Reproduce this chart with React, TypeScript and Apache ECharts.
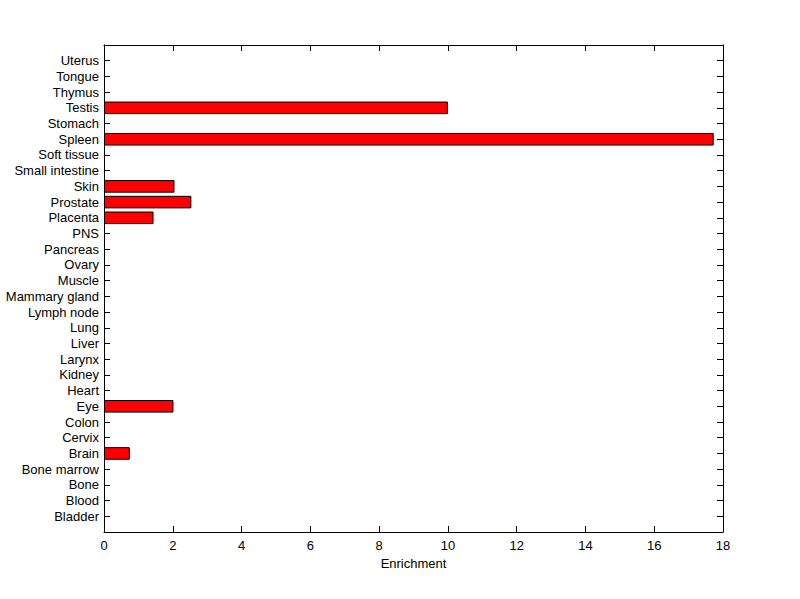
import React, { useEffect, useRef } from "react";
import * as echarts from "echarts";

const categories = [
  "Bladder", "Blood", "Bone", "Bone marrow", "Brain", "Cervix", "Colon", "Eye",
  "Heart", "Kidney", "Larynx", "Liver", "Lung", "Lymph node", "Mammary gland",
  "Muscle", "Ovary", "Pancreas", "PNS", "Placenta", "Prostate", "Skin",
  "Small intestine", "Soft tissue", "Spleen", "Stomach", "Testis", "Thymus",
  "Tongue", "Uterus",
];
const enrichment = [
  0, 0, 0, 0, 0.75, 0, 0, 2.02, 0, 0, 0, 0, 0, 0, 0, 0, 0, 0, 0, 1.44, 2.54,
  2.05, 0, 0, 17.73, 0, 10.0, 0, 0, 0,
];
const xMin = 0;
const xMax = 18;
const xStep = 2;
const xName = "Enrichment";

export default function App() {
  const ref = useRef<HTMLDivElement>(null);
  useEffect(() => {
    if (!ref.current) return;
    const chart = echarts.init(ref.current, undefined, { renderer: "svg" });
    const padded = ["", ...categories, ""];
    const data = [null, ...enrichment.map((v) => (v === 0 ? null : v)), null];
    const font = "'Liberation Sans', Arial, sans-serif";
    const axLine = { show: true, onZero: false, lineStyle: { color: "#000", width: 1 } };
    const tick = { show: true, inside: true, length: 6, lineStyle: { color: "#000", width: 1 } };
    chart.setOption({
      animation: false,
      backgroundColor: "#fff",
      grid: { left: 104, right: 77, top: 45, bottom: 67, containLabel: false },
      xAxis: [
        {
          type: "value",
          position: "bottom",
          min: xMin,
          max: xMax,
          interval: xStep,
          name: xName,
          nameLocation: "middle",
          nameGap: 24,
          nameTextStyle: { color: "#000", fontSize: 13, fontFamily: font },
          axisLine: axLine,
          axisTick: tick,
          splitLine: { show: false },
          axisLabel: { color: "#000", fontSize: 13, fontFamily: font, margin: 7 },
        },
        {
          type: "value",
          position: "top",
          min: xMin,
          max: xMax,
          interval: xStep,
          axisLine: axLine,
          axisTick: tick,
          splitLine: { show: false },
          axisLabel: { show: false },
        },
      ],
      yAxis: [
        {
          type: "category",
          position: "left",
          data: padded,
          boundaryGap: false,
          axisLine: axLine,
          axisTick: { ...tick, interval: 0 },
          splitLine: { show: false },
          axisLabel: { color: "#000", fontSize: 13, fontFamily: font, margin: 5, interval: 0 },
        },
        {
          type: "category",
          position: "right",
          data: padded,
          boundaryGap: false,
          axisLine: axLine,
          axisTick: { ...tick, interval: 0 },
          splitLine: { show: false },
          axisLabel: { show: false },
        },
      ],
      series: [
        {
          type: "bar",
          xAxisIndex: 0,
          yAxisIndex: 0,
          data,
          barWidth: "80%",
          itemStyle: { color: "#ff0000", borderColor: "#000", borderWidth: 1 },
        },
      ],
    });
    return () => chart.dispose();
  }, []);
  return (
    <div
      ref={ref}
      style={{ position: "fixed", left: 0, top: 0, width: 800, height: 599 }}
    />
  );
}
